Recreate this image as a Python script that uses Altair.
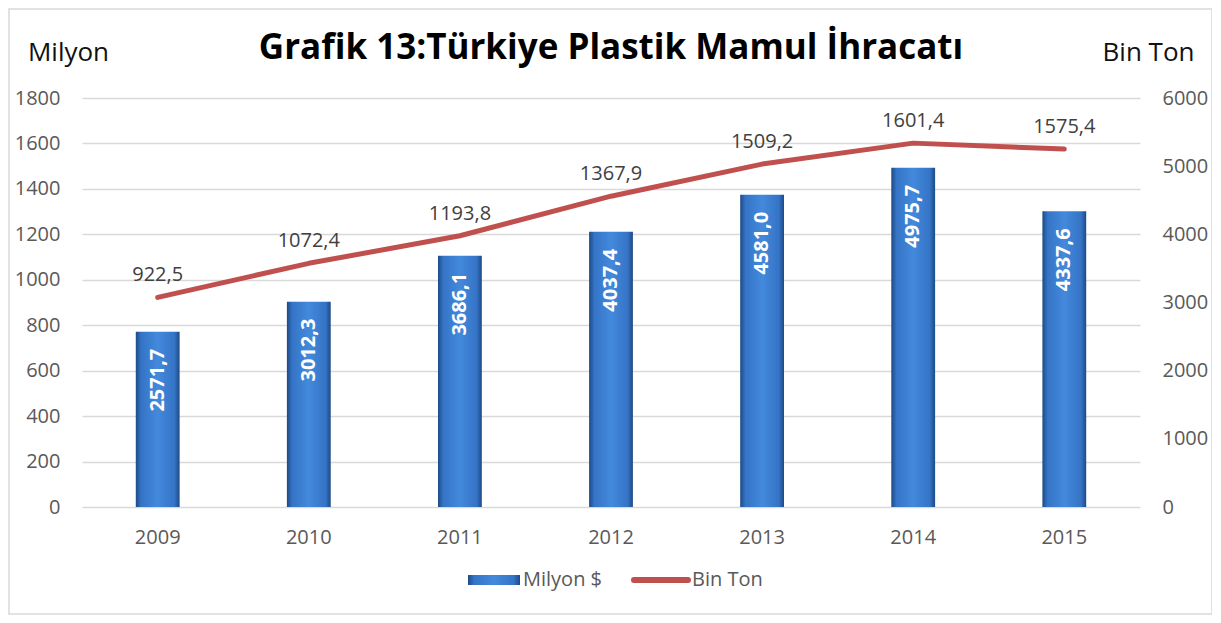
import altair as alt
import pandas as pd

years = ["2009", "2010", "2011", "2012", "2013", "2014", "2015"]
milyon_usd = [2571.7, 3012.3, 3686.1, 4037.4, 4581.0, 4975.7, 4337.6]
bin_ton = [922.5, 1072.4, 1193.8, 1367.9, 1509.2, 1601.4, 1575.4]
left_ticks = [0, 200, 400, 600, 800, 1000, 1200, 1400, 1600, 1800]
right_ticks = [0, 1000, 2000, 3000, 4000, 5000, 6000]

df = pd.DataFrame({"year": years, "usd": milyon_usd, "ton": bin_ton})

W, H = 1058, 409
FONT = "Open Sans"
GREY = "#595959"
RED = "#c0504d"

bar_grad = alt.Gradient(
    gradient="linear",
    stops=[
        alt.GradientStop(offset=0, color="#1d4a86"),
        alt.GradientStop(offset=0.12, color="#3574c6"),
        alt.GradientStop(offset=0.5, color="#4389dc"),
        alt.GradientStop(offset=0.88, color="#3574c6"),
        alt.GradientStop(offset=1, color="#1d4a86"),
    ],
    x1=0, x2=1, y1=0, y2=0,
)

x_enc = alt.X(
    "year:N",
    title=None,
    scale=alt.Scale(paddingInner=0.71, paddingOuter=0.356),
    axis=alt.Axis(labelFontSize=20, labelColor=GREY, labelFont=FONT, grid=False,
                  labelPadding=20, domain=False, ticks=False, labelAngle=0),
)

y_right = alt.Y(
    "usd:Q",
    scale=alt.Scale(domain=[0, 6000], nice=False),
    axis=alt.Axis(orient="right", values=right_ticks, format="d", grid=False,
                  domain=False, ticks=False, labelFontSize=20, labelColor=GREY,
                  labelFont=FONT, labelPadding=22, title="Bin Ton", titleAngle=0,
                  titleX=8, titleY=-46, titleAlign="center",
                  titleBaseline="middle", titleFontSize=26, titleFont=FONT,
                  titleFontWeight="normal", titleColor="#111111"),
)

y_left = alt.Y(
    "ton:Q",
    scale=alt.Scale(domain=[0, 1800], nice=False),
    axis=alt.Axis(orient="left", values=left_ticks, format="d", grid=True,
                  gridColor="#d9d9d9", gridWidth=1.5, domain=False, ticks=False,
                  labelFontSize=20, labelColor=GREY, labelFont=FONT,
                  labelPadding=22, title="Milyon", titleAngle=0, titleX=-14,
                  titleY=-46, titleAlign="center", titleBaseline="middle",
                  titleFontSize=26, titleFont=FONT, titleFontWeight="normal",
                  titleColor="#111111"),
)

base = alt.Chart(df).transform_calculate(
    lbl_usd="replace(format(datum.usd, '.1f'), '.', ',')",
    lbl_ton="replace(format(datum.ton, '.1f'), '.', ',')",
)

bar_base = base.encode(x=x_enc, y=y_right)
bars = bar_base.mark_bar(color=bar_grad)
bar_text = bar_base.mark_text(angle=270, align="right", baseline="middle", dx=-17,
                              color="white", fontWeight="bold", fontSize=20,
                              font=FONT).encode(text="lbl_usd:N")
bar_layer = alt.layer(bars, bar_text)

line_base = base.encode(x=x_enc, y=y_left)
line = line_base.mark_line(color=RED, strokeWidth=5, strokeCap="round",
                           strokeJoin="round")
line_text = line_base.mark_text(baseline="middle", dy=-22, color="#404040",
                                fontSize=20, font=FONT).encode(text="lbl_ton:N")
line_layer = alt.layer(line, line_text)

one = pd.DataFrame({"k": [0]})
legend_rect = alt.Chart(one).mark_rect(color=bar_grad).encode(
    x=alt.value(386), x2=alt.value(438), y=alt.value(477), y2=alt.value(487))
legend_t1 = alt.Chart(one).mark_text(align="left", baseline="middle", fontSize=20,
                                     font=FONT, color=GREY).encode(
    x=alt.value(441), y=alt.value(482), text=alt.value("Milyon $"))
legend_line = alt.Chart(one).mark_rule(color=RED, strokeWidth=6,
                                       strokeCap="round").encode(
    x=alt.value(552), x2=alt.value(606), y=alt.value(482))
legend_t2 = alt.Chart(one).mark_text(align="left", baseline="middle", fontSize=20,
                                     font=FONT, color=GREY).encode(
    x=alt.value(610), y=alt.value(482), text=alt.value("Bin Ton"))
border = alt.Chart(one).mark_rect(fillOpacity=0, stroke="#d9d9d9",
                                  strokeWidth=1.5).encode(
    x=alt.value(-73), x2=alt.value(1130), y=alt.value(-89), y2=alt.value(516))

chart = alt.layer(
    border, line_layer, bar_layer, legend_rect, legend_t1, legend_line, legend_t2
).resolve_scale(y="independent").properties(
    width=W,
    height=H,
    view=alt.ViewBackground(strokeOpacity=0, strokeWidth=0),
    title=alt.TitleParams("Grafik 13:Türkiye Plastik Mamul İhracatı", fontSize=35,
                          fontWeight="bold", font=FONT, color="black",
                          anchor="middle", frame="group", offset=0, dy=58),
    autosize=alt.AutoSizeParams(type="none"),
    padding={"left": 74, "top": 90, "right": 72, "bottom": 108},
).configure_view(strokeOpacity=0, strokeWidth=0).configure(
    background="white")

chart.save("out.html", embed_options={"renderer": "svg", "actions": False})
